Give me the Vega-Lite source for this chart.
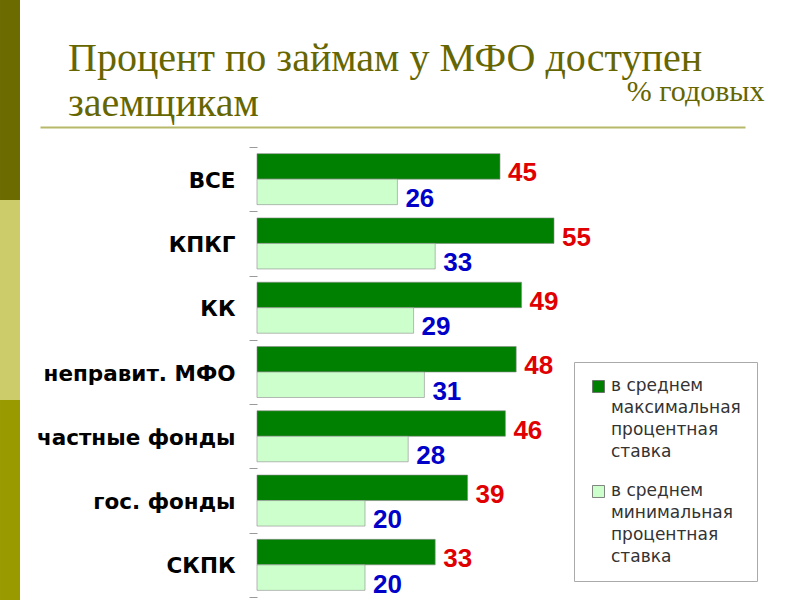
{
  "$schema": "https://vega.github.io/schema/vega-lite/v6.json",
  "width": 800,
  "height": 600,
  "autosize": {"type": "none"},
  "padding": 0,
  "background": "white",
  "config": {"view": {"stroke": null}},
  "title": {
    "text": ["Процент по займам у МФО доступен", "заемщикам"],
    "anchor": "start",
    "frame": "group",
    "font": "Liberation Serif",
    "fontSize": 40,
    "fontWeight": "normal",
    "color": "#666600",
    "lineHeight": 45,
    "offset": 0,
    "dx": 68,
    "dy": 135
  },
  "layer": [
    {
      "data": {"values": [
        {"part": "a", "from": 0, "to": 1},
        {"part": "b", "from": 1, "to": 2},
        {"part": "c", "from": 2, "to": 3}
      ]},
      "mark": {"type": "rect"},
      "encoding": {
        "x": {"datum": -47.59, "type": "quantitative"},
        "x2": {"datum": -43.89},
        "y": {"field": "from", "type": "quantitative", "scale": {"domain": [0, 3], "reverse": true, "nice": false, "zero": false}, "axis": null},
        "y2": {"field": "to"},
        "color": {
          "condition": [
            {"test": "datum.part === 'a'", "value": "#6b6b00"},
            {"test": "datum.part === 'b'", "value": "#cccc6a"}
          ],
          "value": "#999900"
        }
      }
    },
    {
      "data": {"values": [
        {"cat": "ВСЕ", "series": "max", "value": 45},
        {"cat": "ВСЕ", "series": "min", "value": 26},
        {"cat": "КПКГ", "series": "max", "value": 55},
        {"cat": "КПКГ", "series": "min", "value": 33},
        {"cat": "КК", "series": "max", "value": 49},
        {"cat": "КК", "series": "min", "value": 29},
        {"cat": "неправит. МФО", "series": "max", "value": 48},
        {"cat": "неправит. МФО", "series": "min", "value": 31},
        {"cat": "частные фонды", "series": "max", "value": 46},
        {"cat": "частные фонды", "series": "min", "value": 28},
        {"cat": "гос. фонды", "series": "max", "value": 39},
        {"cat": "гос. фонды", "series": "min", "value": 20},
        {"cat": "СКПК", "series": "max", "value": 33},
        {"cat": "СКПК", "series": "min", "value": 20}
      ]},
      "encoding": {
        "y": {
          "field": "cat",
          "type": "nominal",
          "sort": ["ВСЕ", "КПКГ", "КК", "неправит. МФО", "частные фонды", "гос. фонды", "СКПК"],
          "scale": {"range": [147, 597], "paddingInner": 0, "paddingOuter": 0},
          "axis": {
            "orient": "left",
            "offset": -257,
            "domain": false,
            "grid": false,
            "ticks": true,
            "tickBand": "extent",
            "tickSize": 8,
            "tickColor": "#9a9a9a",
            "tickWidth": 1,
            "labelFont": "DejaVu Sans",
            "labelFontSize": 21.5,
            "labelFontWeight": "bold",
            "labelColor": "#000000",
            "labelPadding": 14,
            "labelLimit": 300,
            "labelOffset": 2,
            "title": null
          }
        },
        "yOffset": {
          "field": "series",
          "type": "nominal",
          "sort": ["max", "min"],
          "scale": {"paddingInner": 0, "paddingOuter": 0.26}
        },
        "x": {
          "field": "value",
          "type": "quantitative",
          "scale": {"domain": [-40.185, 90.37], "range": [40, 745], "nice": false, "zero": false},
          "axis": {
            "orient": "top",
            "offset": -127,
            "domain": true,
            "domainColor": "#b8b86a",
            "domainWidth": 2,
            "ticks": false,
            "labels": false,
            "grid": false,
            "title": "% годовых",
            "titleFont": "Liberation Serif",
            "titleFontSize": 30,
            "titleFontWeight": "normal",
            "titleColor": "#666600",
            "titleAlign": "right",
            "titleBaseline": "alphabetic",
            "titleX": 764,
            "titleY": -27
          }
        }
      },
      "layer": [
        {
          "mark": {"type": "bar", "stroke": "#8c8c8c", "strokeWidth": 0.6},
          "encoding": {
            "x2": {"datum": 0},
            "color": {
              "field": "series",
              "type": "nominal",
              "scale": {"domain": ["max", "min"], "range": ["#008000", "#ccffcc"]},
              "legend": {
                "orient": "none",
                "legendX": 574,
                "legendY": 362,
                "title": null,
                "padding": 16,
                "fillColor": "#ffffff",
                "strokeColor": "#aaaaaa",
                "symbolType": "square",
                "symbolSize": 144,
                "symbolStrokeColor": "#666666",
                "symbolStrokeWidth": 0.8,
                "symbolOpacity": 1,
                "labelFont": "DejaVu Sans",
                "labelFontSize": 17,
                "labelColor": "#333333",
                "labelOffset": 4,
                "labelBaseline": "top",
                "labelLimit": 300,
                "rowPadding": 21,
                "labelExpr": "datum.value === 'max' ? ['в среднем', 'максимальная', 'процентная', 'ставка'] : ['в среднем', 'минимальная', 'процентная', 'ставка']",
                "encode": {"labels": {"update": {"lineHeight": {"value": 22}, "dy": {"value": -9}}}}
              }
            }
          }
        },
        {
          "mark": {"type": "text", "align": "left", "baseline": "middle", "dx": 8, "dy": 7, "font": "Liberation Sans", "fontSize": 26, "fontWeight": "bold"},
          "encoding": {
            "text": {"field": "value", "type": "quantitative"},
            "color": {
              "condition": {"test": "datum.series === 'max'", "value": "#e00000"},
              "value": "#0000c8"
            }
          }
        }
      ]
    }
  ],
  "resolve": {"scale": {"y": "independent"}, "axis": {"y": "independent"}}
}
